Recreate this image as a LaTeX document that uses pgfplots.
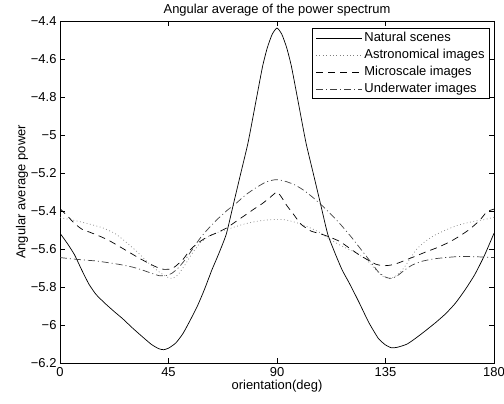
\documentclass[border=0pt]{standalone}
\usepackage{pgfplots}
\pgfplotsset{compat=1.18}
\usepackage{fontspec}
\setmainfont{Liberation Sans}

\pgfplotstableread{
x y
0 -5.517
3 -5.57
6 -5.63
9 -5.71
12 -5.785
15 -5.84
19 -5.89
23 -5.935
26 -5.967
30 -6.015
34 -6.06
38 -6.103
41 -6.125
43 -6.13
45 -6.122
48 -6.095
51 -6.045
54 -5.975
57 -5.9
60 -5.81
63 -5.71
66 -5.62
69 -5.52
72 -5.36
75 -5.2
78 -5.04
81 -4.84
84 -4.64
86 -4.54
88 -4.47
90 -4.437
92 -4.47
94 -4.54
96 -4.64
99 -4.84
102 -5.04
105 -5.2
108 -5.36
111 -5.52
114 -5.62
117 -5.71
120 -5.78
124 -5.88
128 -5.985
132 -6.07
135 -6.105
137.5 -6.12
140 -6.117
144 -6.1
148 -6.065
152 -6.026
156 -5.985
160 -5.94
164 -5.885
168 -5.815
172 -5.735
176 -5.635
180 -5.517
}\natural

\pgfplotstableread{
x y
0 -5.435
6 -5.45
12 -5.468
18 -5.49
23 -5.52
28 -5.57
32 -5.615
36 -5.665
40 -5.71
44 -5.745
46.5 -5.755
49 -5.735
52 -5.68
55 -5.62
58 -5.57
62 -5.53
66 -5.51
71 -5.49
76 -5.47
81 -5.456
86 -5.447
90 -5.444
94 -5.448
99 -5.465
104 -5.49
108 -5.515
112 -5.55
117 -5.585
122 -5.615
127 -5.655
131 -5.71
134 -5.745
136.5 -5.755
139 -5.745
142 -5.71
145 -5.655
148 -5.6
151 -5.565
155 -5.53
160 -5.5
165 -5.475
171 -5.456
176 -5.445
180 -5.433
}\astro

\pgfplotstableread{
x y
0 -5.388
3 -5.425
6 -5.465
9 -5.495
12 -5.51
16 -5.53
20 -5.553
24 -5.582
28 -5.612
32 -5.642
36 -5.67
40 -5.695
43 -5.707
46 -5.705
48 -5.69
51 -5.655
54 -5.605
57 -5.57
61 -5.537
65 -5.515
69 -5.49
73 -5.455
77 -5.42
81 -5.385
84 -5.36
87 -5.33
90 -5.30
92 -5.33
94 -5.37
97 -5.42
100 -5.47
104 -5.505
108 -5.52
112 -5.538
116 -5.56
120 -5.595
124 -5.63
128 -5.66
131 -5.68
134 -5.688
137 -5.685
140 -5.675
144 -5.655
148 -5.635
152 -5.614
157 -5.59
162 -5.56
166 -5.53
170 -5.495
174 -5.45
177 -5.405
180 -5.39
}\micro

\pgfplotstableread{
x y
0 -5.645
5 -5.652
10 -5.658
15 -5.663
20 -5.672
25 -5.682
30 -5.695
34 -5.71
38 -5.728
41 -5.74
44 -5.74
46.5 -5.727
49 -5.70
52 -5.655
55 -5.6
58 -5.545
61 -5.5
65 -5.447
69 -5.4
73 -5.36
77 -5.315
81 -5.28
85 -5.25
88 -5.238
90 -5.235
93 -5.242
97 -5.26
101 -5.29
105 -5.33
109 -5.375
113 -5.425
117 -5.48
121 -5.54
125 -5.605
129 -5.67
132 -5.72
135 -5.748
137.5 -5.755
140 -5.74
143 -5.71
146 -5.685
150 -5.665
155 -5.652
160 -5.645
165 -5.64
170 -5.64
175 -5.642
180 -5.645
}\under

\begin{document}
\begin{tikzpicture}
\begin{axis}[
  scale only axis,
  width=434bp, height=342bp,
  xmin=0, xmax=180, ymin=-6.2, ymax=-4.4,
  xtick={0,45,90,135,180},
  xticklabels={0,45,90,135,180},
  ytick={-6.2,-6,-5.8,-5.6,-5.4,-5.2,-5,-4.8,-4.6,-4.4},
  yticklabels={−6.2,−6,−5.8,−5.6,−5.4,−5.2,−5,−4.8,−4.6,−4.4},
  tick align=inside,
  major tick length=5bp,
  tick style={black, line width=0.6bp},
  axis line style={line width=0.7bp},
  ticklabel style={font=\fontsize{13}{15}\selectfont},
  xticklabel style={yshift=-1bp},
  label style={font=\fontsize{13}{15}\selectfont},
  title style={font=\fontsize{13}{15}\selectfont, yshift=-5bp},
  title={Angular average of the power spectrum},
  xlabel={orientation(deg)},
  ylabel={Angular average power},
  xlabel style={yshift=3bp},
  ylabel style={yshift=-4bp},
  legend style={at={(1,1)}, anchor=north east, xshift=-4bp, yshift=-7bp,
    font=\fontsize{13}{15}\selectfont, draw=black, line width=0.7bp,
    inner xsep=3bp, inner ysep=1.5bp, row sep=0.5bp,
    nodes={inner sep=2bp, text height=9.5bp, text depth=3bp}},
  legend cell align=left,
  legend image code/.code={\draw[#1] (0bp,0bp) -- (46bp,0bp);},
  every axis plot/.append style={line width=0.7bp, smooth, tension=0.35},
]
\addplot[black, solid] table {\natural};
\addlegendentry{Natural scenes}
\addplot[gray, dash pattern=on 0.8bp off 2.6bp] table {\astro};
\addlegendentry{Astronomical images}
\addplot[black, dash pattern=on 7bp off 5bp] table {\micro};
\addlegendentry{Microscale images}
\addplot[black!75, dash pattern=on 7bp off 3bp on 1bp off 3bp] table {\under};
\addlegendentry{Underwater images}
\end{axis}
\pgfresetboundingbox
\useasboundingbox (-60bp,-41bp) rectangle (444bp,363bp);
\end{tikzpicture}
\end{document}
